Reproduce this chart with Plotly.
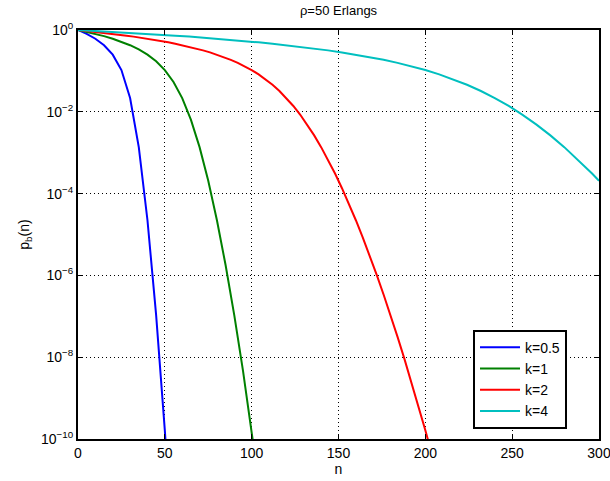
import plotly.graph_objects as go

# ---- data (blocking probability vs n) ----
n_k05 = [0, 5, 10, 15, 20, 25, 30, 35, 40, 45, 50, 55]
p_k05 = [1.0, 0.8047, 0.6121, 0.4248, 0.2498, 0.1048, 0.02167, 1.368e-3,
         2.230e-5, 1.049e-7, 1.631e-10, 9.35e-14]

n_k1 = [0, 5, 10, 15, 20, 25, 30, 35, 40, 45, 50, 55, 60, 65, 70, 75, 80,
        85, 90, 95, 100, 105]
p_k1 = [1.0, 0.9021, 0.8047, 0.7080, 0.6121, 0.5175, 0.4248, 0.3350, 0.2498,
        0.1717, 0.1048, 0.05375, 0.02167, 6.450e-3, 1.368e-3, 2.059e-4,
        2.230e-5, 1.770e-6, 1.049e-7, 4.714e-9, 1.631e-10, 4.40e-12]

n_k2 = [0, 4, 8, 12, 16, 20, 24, 28, 32, 36, 40, 44, 48, 52, 56, 60, 64, 68,
        72, 76, 80, 84, 88, 92, 96, 100, 104, 108, 112, 116, 120, 124, 128,
        132, 136, 140, 144, 148, 152, 156, 160, 164, 168, 172, 176, 180, 184,
        188, 192, 196, 200, 204]
p_k2 = [1.0, 0.9608, 0.9217, 0.8826, 0.8436, 0.8047, 0.7659, 0.7272, 0.6887,
        0.6503, 0.6121, 0.5741, 0.5363, 0.4988, 0.4616, 0.4248, 0.3885,
        0.3527, 0.3176, 0.2832, 0.2498, 0.2175, 0.1866, 0.1573, 0.1299,
        0.1048, 0.08221, 0.06248, 0.04579, 0.03222, 0.02167, 0.01388,
        8.440e-3, 4.863e-3, 2.652e-3, 1.368e-3, 6.679e-4, 3.089e-4, 1.354e-4,
        5.636e-5, 2.230e-5, 8.393e-6, 3.011e-6, 1.029e-6, 3.360e-7, 1.049e-7,
        3.131e-8, 8.957e-9, 2.455e-9, 6.457e-10, 1.631e-10, 3.958e-11]

n_k4 = [0, 8, 16, 24, 32, 40, 48, 56, 64, 72, 80, 88, 96, 104, 112, 120, 128,
        136, 144, 152, 160, 168, 176, 184, 192, 200, 208, 216, 224, 232, 240,
        248, 256, 264, 272, 280, 288, 296, 300]
p_k4 = [1.0, 0.9608, 0.9217, 0.8826, 0.8436, 0.8047, 0.7659, 0.7272, 0.6887,
        0.6503, 0.6121, 0.5741, 0.5363, 0.4988, 0.4616, 0.4248, 0.3885,
        0.3527, 0.3176, 0.2832, 0.2498, 0.2175, 0.1866, 0.1573, 0.1299,
        0.1048, 0.08221, 0.06248, 0.04579, 0.03222, 0.02167, 0.01388,
        8.440e-3, 4.863e-3, 2.652e-3, 1.368e-3, 6.679e-4, 3.089e-4, 2.059e-4]

series_names = ["k=0.5", "k=1", "k=2", "k=4"]
series_colors = ["#0000ff", "#008000", "#ff0000", "#00bfbf"]

x_ticks = [0, 50, 100, 150, 200, 250, 300]
y_tickvals = [1, 1e-2, 1e-4, 1e-6, 1e-8, 1e-10]
y_ticktext = ["10<sup>0</sup>", "10<sup>−2</sup>", "10<sup>−4</sup>",
              "10<sup>−6</sup>", "10<sup>−8</sup>", "10<sup>−10</sup>"]

FONT = "Liberation Sans, Arial, Helvetica, sans-serif"

fig = go.Figure()
for xs, ys, name, col in zip([n_k05, n_k1, n_k2, n_k4],
                             [p_k05, p_k1, p_k2, p_k4],
                             series_names, series_colors):
    fig.add_trace(go.Scatter(x=xs, y=ys, mode="lines", name=name,
                             line=dict(color=col, width=2)))

axis_common = dict(
    showline=True, linecolor="black", linewidth=2, mirror="ticks",
    ticks="inside", ticklen=5, tickwidth=1, tickcolor="black",
    showgrid=True, gridcolor="black", gridwidth=1, griddash="1px,3px",
    zeroline=False, automargin=False, ticklabeloverflow="allow",
    tickfont=dict(family=FONT, size=14, color="black"),
)

fig.update_xaxes(range=[0, 300], tickvals=x_ticks,
                 title=dict(text="n", font=dict(family=FONT, size=14, color="black"),
                            standoff=2),
                 **axis_common)
fig.update_yaxes(type="log", range=[-10, 0], tickvals=y_tickvals,
                 ticktext=y_ticktext,
                 title=dict(text="p<sub>b</sub>(n)",
                            font=dict(family=FONT, size=14, color="black"),
                            standoff=8),
                 **axis_common)

fig.update_layout(
    width=610, height=481,
    margin=dict(l=78, r=11, t=30, b=42),
    paper_bgcolor="white", plot_bgcolor="white",
    title=dict(text="ρ=50 Erlangs", x=0.555, xanchor="center", y=0.988,
               yanchor="top", font=dict(family=FONT, size=13, color="black")),
    legend=dict(x=0.9386, xanchor="right", y=0.025, yanchor="bottom",
                bgcolor="white", bordercolor="black", borderwidth=2,
                font=dict(family=FONT, size=14, color="black"),
                tracegroupgap=0, itemwidth=40),
    showlegend=True,
)

fig.write_html("out.html")
